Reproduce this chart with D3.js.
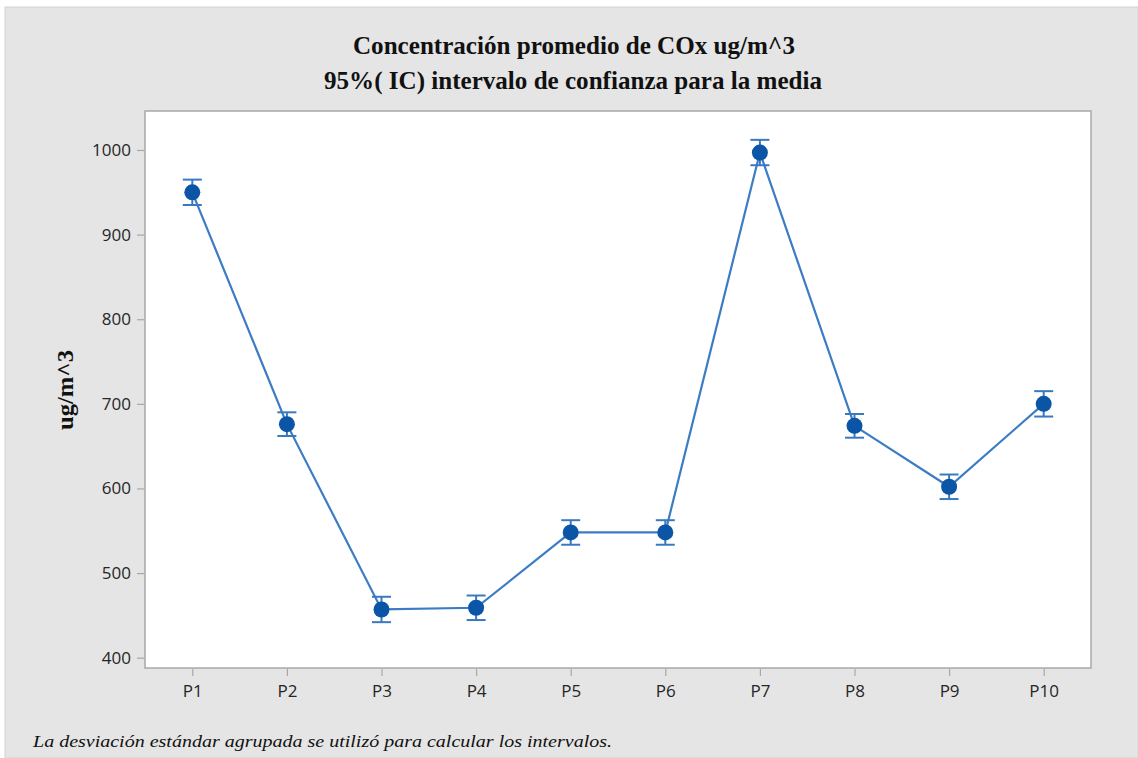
<!DOCTYPE html>
<html>
<head>
<meta charset="utf-8">
<script src="https://cdn.jsdelivr.net/npm/d3@7/dist/d3.min.js"></script>
<style>
  html, body { margin: 0; padding: 0; background: #ffffff; }
  svg { display: block; }
</style>
</head>
<body>
<svg id="chart" width="1138" height="758"></svg>
<script>
// Mean CO_x concentration per sampling point with 95% confidence intervals
const categories = ["P1", "P2", "P3", "P4", "P5", "P6", "P7", "P8", "P9", "P10"];
const means = [950, 676, 457, 459, 548, 548, 997, 674, 602, 700];
const ciHalfWidth = [15, 14, 15, 14.5, 14.5, 14.5, 15, 14, 14.5, 15];
const yTicks = [400, 500, 600, 700, 800, 900, 1000];

const titleLines = ["Concentración promedio de COx ug/m^3", "95%( IC) intervalo de confianza  para la media"];
const yLabel = "ug/m^3";
const footnote = "La desviación estándar agrupada se utilizó para calcular los intervalos.";

const W = 1138, H = 758;
const frame = { left: 145, top: 111, right: 1091, bottom: 668 };

const svg = d3.select("#chart");

// outer panel
svg.append("rect")
  .attr("x", 5).attr("y", 7).attr("width", W - 5).attr("height", H - 7)
  .attr("fill", "#e5e5e5").attr("stroke", "#d2d2d2");

// plot area
svg.append("rect")
  .attr("x", frame.left).attr("y", frame.top)
  .attr("width", frame.right - frame.left).attr("height", frame.bottom - frame.top)
  .attr("fill", "#ffffff").attr("stroke", "#a8a8a8").attr("stroke-width", 1.5);

const x = d3.scalePoint().domain(categories)
  .range([frame.left, frame.right]).padding(0.5);
const y = d3.scaleLinear().domain([400, 1000]).range([657.7, 150]);

// axes
const yAxis = d3.axisLeft(y).tickValues(yTicks).tickFormat(d3.format("d")).tickSize(7).tickPadding(6);
const xAxis = d3.axisBottom(x).tickSize(7).tickPadding(9);

const gy = svg.append("g").attr("transform", `translate(${frame.left - 1},0)`).call(yAxis);
const gx = svg.append("g").attr("transform", `translate(0,${frame.bottom + 1})`).call(xAxis);
[gx, gy].forEach(g => {
  g.select(".domain").remove();
  g.selectAll(".tick line").attr("stroke", "#a8a8a8").attr("stroke-width", 1.2);
  g.selectAll(".tick text")
    .attr("fill", "#262626")
    .style("font-family", "'Open Sans', 'Noto Sans', sans-serif")
    .style("font-size", "17px");
});

// connecting line
const line = d3.line().x((d, i) => x(categories[i])).y(d => y(d));
svg.append("path")
  .datum(means)
  .attr("d", line)
  .attr("fill", "none")
  .attr("stroke", "#3b7cc4")
  .attr("stroke-width", 2.2);

// confidence interval bars
const capHalf = 9.5;
const ci = svg.append("g").attr("stroke", "#3a79c2").attr("stroke-width", 2).attr("fill", "none");
means.forEach((m, i) => {
  const cx = x(categories[i]);
  const lo = y(m - ciHalfWidth[i]), hi = y(m + ciHalfWidth[i]);
  ci.append("line").attr("x1", cx).attr("x2", cx).attr("y1", lo).attr("y2", hi);
  ci.append("line").attr("x1", cx - capHalf).attr("x2", cx + capHalf).attr("y1", hi).attr("y2", hi);
  ci.append("line").attr("x1", cx - capHalf).attr("x2", cx + capHalf).attr("y1", lo).attr("y2", lo);
});

// mean markers
svg.append("g").selectAll("circle")
  .data(means)
  .join("circle")
  .attr("cx", (d, i) => x(categories[i]))
  .attr("cy", d => y(d))
  .attr("r", 8)
  .attr("fill", "#0b55a6");

// titles
const titleFont = "'Liberation Serif', 'Times New Roman', serif";
svg.append("text")
  .attr("x", 574).attr("y", 54)
  .attr("text-anchor", "middle")
  .attr("textLength", 442).attr("lengthAdjust", "spacingAndGlyphs")
  .style("font-family", titleFont).style("font-weight", "bold").style("font-size", "25px")
  .attr("fill", "#111")
  .text(titleLines[0]);
svg.append("text")
  .attr("x", 573).attr("y", 89)
  .attr("text-anchor", "middle")
  .attr("textLength", 498).attr("lengthAdjust", "spacingAndGlyphs")
  .style("font-family", titleFont).style("font-weight", "bold").style("font-size", "25px")
  .attr("fill", "#111")
  .text(titleLines[1]);

// y axis label
svg.append("text")
  .attr("transform", "translate(73,390) rotate(-90)")
  .attr("text-anchor", "middle")
  .attr("textLength", 80).attr("lengthAdjust", "spacingAndGlyphs")
  .style("font-family", titleFont).style("font-weight", "bold").style("font-size", "23px")
  .attr("fill", "#111")
  .text(yLabel);

// footnote
svg.append("text")
  .attr("x", 33).attr("y", 747)
  .attr("textLength", 579).attr("lengthAdjust", "spacingAndGlyphs")
  .style("font-family", titleFont).style("font-style", "italic").style("font-size", "17px")
  .attr("fill", "#111")
  .text(footnote);
</script>
</body>
</html>
